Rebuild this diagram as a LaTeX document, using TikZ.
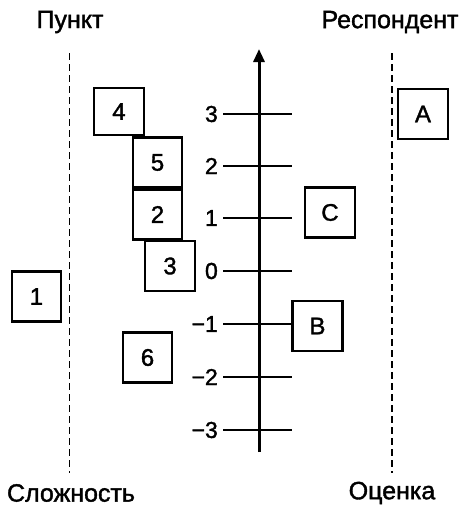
\documentclass[tikz,border=0pt]{standalone}
\usepackage{fontspec}
\setmainfont{Liberation Sans}
\newfontfamily\heavysans{Liberation Sans}[FakeBold=1.5]
\usetikzlibrary{arrows.meta}
\begin{document}
\begin{tikzpicture}[x=1pt,y=-1pt,
  box/.style={draw, line width=2.2pt, minimum width=50pt, minimum height=50pt,
    inner sep=0pt, font=\heavysans\fontsize{24}{26}\selectfont},
  title/.style={font=\heavysans\fontsize{25}{28}\selectfont, inner sep=0pt},
  ticklabel/.style={font=\heavysans\fontsize{23}{26}\selectfont, inner sep=0pt, anchor=east},
  guide/.style={line width=1.8pt, dash pattern=on 7pt off 4pt},
  tickline/.style={line width=2pt},
  axisline/.style={line width=3pt, -{Triangle[length=13pt,width=11pt]}}
]
\useasboundingbox (0,0) rectangle (459,507);

% column headings and footers
\node[title] (punkt) at (70,22) {Пункт};
\node[title] (resp) at (390,22) {Респондент};
\node[title] (slozh) at (71,493) {Сложность};
\node[title] (otsenka) at (392,493) {Оценка};

% dashed separators
\coordinate (lt) at (69.5,53);
\coordinate (lb) at (69.5,473);
\coordinate (rt) at (392,53);
\coordinate (rb) at (392,473);
\draw[guide] (lt) -- (lb);
\draw[guide] (rt) -- (rb);

% scale axis
\coordinate (axb) at (259,452);
\coordinate (axt) at (259,49);
\draw[axisline] (axb) -- (axt);

% ticks with labels
\foreach \v/\yy/\lab in {3/114/3, 2/166/2, 1/218/1, 0/271/0,
    m1/324/−1, m2/377/−2, m3/430/−3}{
  \coordinate (ts\v) at (223,\yy);
  \coordinate (te\v) at (292,\yy);
  \node[ticklabel] (lab\v) at (218,\yy) {\lab};
}

% items
\node[box, minimum height=47pt] (i4) at (119,111.5) {4};
\node[box, minimum width=49pt] (i5) at (157.5,162.5) {5};
\node[box, minimum width=49pt] (i2) at (157.5,214.5) {2};
\node[box] (i3) at (170,266) {3};
\node[box, minimum width=49pt] (i1) at (36.5,296.5) {1};
\node[box, minimum width=49pt] (i6) at (147.5,357.5) {6};

% respondents
\node[box] (rA) at (423,114) {A};
\node[box] (rC) at (330,212.5) {C};
\node[box] (rB) at (317.5,326) {B};

\foreach \v in {3,2,1,0,m2,m3}{
  \draw[tickline] (ts\v) -- (te\v);
}
\draw[tickline] (tsm1) -- (tsm1 -| rB.west);
\end{tikzpicture}
\end{document}
